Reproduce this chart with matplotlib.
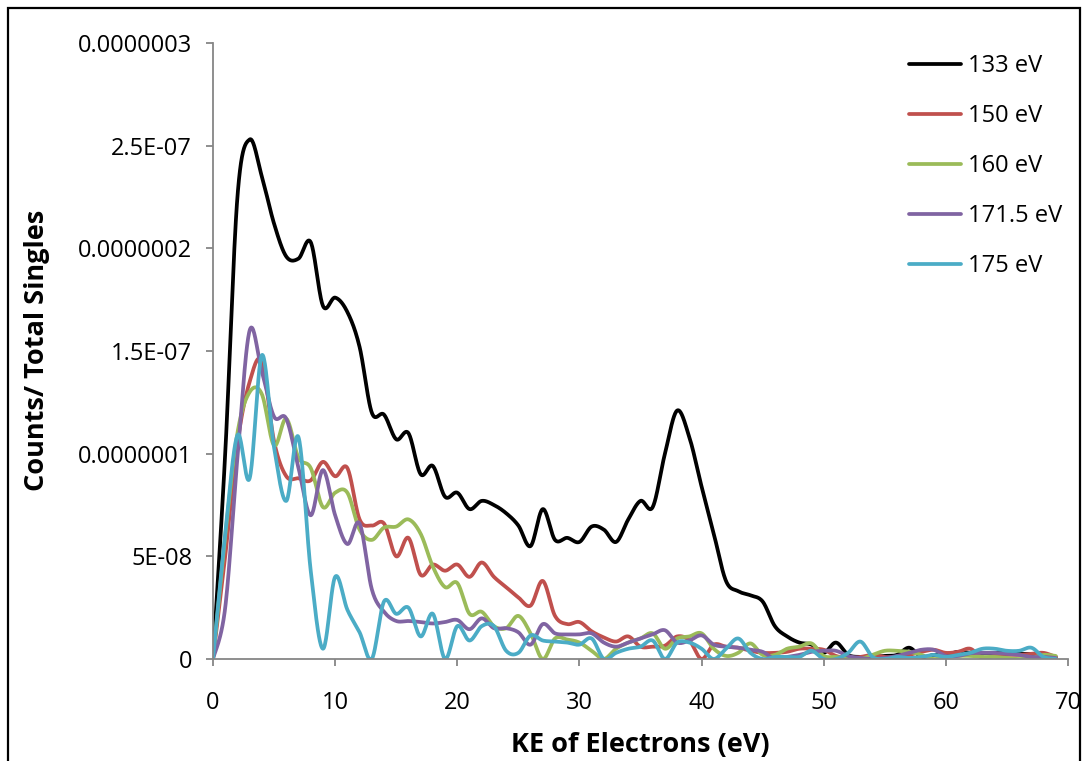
import numpy as np
import matplotlib
matplotlib.use("Agg")
import matplotlib.pyplot as plt
from matplotlib.patches import Rectangle

# ---- data (values in units of 1e-8 counts / total singles) ----
ke = np.arange(0, 70)

s133 = [0, 10.0, 22.5, 25.3, 23.5, 21.2, 19.6, 19.5, 20.3, 17.2,
        17.6, 16.9, 15.2, 12.0, 11.9, 10.7, 11.0, 9.0, 9.4, 7.9,
        8.1, 7.3, 7.7, 7.5, 7.1, 6.5, 5.5, 7.3, 5.8, 5.9,
        5.7, 6.45, 6.3, 5.7, 6.8, 7.7, 7.4, 10.0, 12.1, 10.8,
        8.4, 6.1, 3.8, 3.3, 3.1, 2.8, 1.6, 1.1, 0.8, 0.7,
        0.3, 0.8, 0.2, 0.1, 0.1, 0.15, 0.2, 0.55, 0.1, 0.2,
        0.2, 0.35, 0.3, 0.3, 0.3, 0.3, 0.25, 0.25, 0.2, 0.1]

s150 = [0, 5.0, 10.5, 13.5, 14.5, 10.6, 8.9, 8.8, 8.7, 9.6,
        8.9, 9.3, 6.8, 6.5, 6.6, 5.0, 5.9, 4.1, 4.6, 4.3,
        4.6, 4.0, 4.7, 4.0, 3.5, 3.0, 2.6, 3.8, 2.1, 1.7,
        1.8, 1.35, 1.05, 0.85, 1.1, 0.6, 0.6, 0.65, 1.1, 0.9,
        0.0, 0.7, 0.6, 0.55, 0.4, 0.3, 0.3, 0.35, 0.5, 0.5,
        0.45, 0.15, 0.05, 0.1, 0.2, 0.1, 0.1, 0.2, 0.35, 0.45,
        0.3, 0.35, 0.5, 0.05, 0.15, 0.2, 0.2, 0.25, 0.3, 0.1]

s160 = [0, 6.0, 11.0, 13.0, 12.9, 10.4, 11.7, 9.8, 9.3, 7.4,
        8.1, 8.1, 6.3, 5.8, 6.4, 6.45, 6.8, 6.1, 4.5, 3.5,
        3.7, 2.2, 2.3, 1.6, 1.5, 2.1, 1.25, 0.0, 1.0, 0.95,
        0.8, 0.4, 0.0, 0.5, 0.8, 1.0, 1.25, 0.5, 1.0, 1.1,
        1.25, 0.5, 0.15, 0.3, 0.76, 0.2, 0.2, 0.5, 0.6, 0.76,
        0.15, 0.1, 0.05, 0.0, 0.2, 0.4, 0.4, 0.35, 0.2, 0.0,
        0.1, 0.15, 0.15, 0.1, 0.1, 0.05, 0.0, 0.05, 0.2, 0.15]

s171 = [0, 2.5, 9.8, 16.0, 14.0, 11.8, 11.7, 9.3, 7.0, 9.2,
        7.0, 5.6, 6.6, 3.4, 2.3, 1.85, 1.85, 1.8, 1.73, 1.8,
        1.9, 1.45, 1.98, 1.5, 1.5, 1.3, 0.7, 1.7, 1.25, 1.2,
        1.2, 1.25, 0.8, 0.6, 0.8, 1.0, 1.2, 1.4, 0.8, 0.9,
        1.15, 0.7, 0.6, 0.55, 0.45, 0.35, 0.0, 0.1, 0.2, 0.35,
        0.4, 0.4, 0.15, 0.05, 0.0, 0.05, 0.15, 0.3, 0.45, 0.45,
        0.15, 0.15, 0.28, 0.3, 0.3, 0.25, 0.2, 0.1, 0.1, 0.05]

s175 = [0, 6.1, 10.9, 8.8, 14.8, 10.3, 7.7, 10.8, 4.3, 0.5,
        4.0, 2.4, 1.3, 0.0, 2.8, 2.2, 2.5, 1.1, 2.2, 0.0,
        1.6, 0.9, 1.6, 1.6, 0.4, 0.3, 1.15, 0.9, 0.85, 0.8,
        0.7, 1.0, 0.0, 0.3, 0.5, 0.6, 0.9, 0.0, 0.8, 0.8,
        0.5, 0.0, 0.5, 1.0, 0.3, 0.0, 0.1, 0.1, 0.1, 0.4,
        0.0, 0.0, 0.3, 0.85, 0.1, 0.0, 0.1, 0.05, 0.1, 0.2,
        0.1, 0.2, 0.3, 0.5, 0.5, 0.4, 0.4, 0.55, 0.1, 0.0]

series_labels = ["133 eV", "150 eV", "160 eV", "171.5 eV", "175 eV"]
series_colors = ["#000000", "#C0504D", "#9BBB59", "#8064A2", "#4BACC6"]
yticks = [0, 5e-8, 1e-7, 1.5e-7, 2e-7, 2.5e-7, 3e-7]
ytick_labels = ["0", "5E-08", "0.0000001", "1.5E-07", "0.0000002", "2.5E-07", "0.0000003"]
xticks = [0, 10, 20, 30, 40, 50, 60, 70]


def smooth(x, y, n=24):
    """Excel-style smoothed line (uniform Catmull-Rom through the points)."""
    x = np.asarray(x, float)
    y = np.asarray(y, float)
    P = np.column_stack([x, y])
    P = np.vstack([P[0], P, P[-1]])
    t = np.linspace(0, 1, n, endpoint=False)[:, None]
    out = []
    for i in range(1, len(P) - 2):
        p0, p1, p2, p3 = P[i - 1], P[i], P[i + 1], P[i + 2]
        seg = 0.5 * (2 * p1 + (-p0 + p2) * t + (2 * p0 - 5 * p1 + 4 * p2 - p3) * t ** 2
                     + (-p0 + 3 * p1 - 3 * p2 + p3) * t ** 3)
        out.append(seg)
    out.append(P[-2][None, :])
    out = np.vstack(out)
    return out[:, 0], out[:, 1]


W, H = 1082, 761
fig = plt.figure(figsize=(W / 100, H / 100), dpi=100)
ax = fig.add_axes([213 / W, 102 / H, 855 / W, 616 / H])

for vals, lab, col in zip([s133, s150, s160, s171, s175], series_labels, series_colors):
    xs, ys = smooth(ke, np.array(vals) * 1e-8)
    ax.plot(xs, ys, color=col, lw=2.7, label=lab, solid_capstyle="round")

ax.set_xlim(0, 70)
ax.set_ylim(0, 3e-7)
ax.set_xticks(xticks)
ax.set_xticklabels([str(v) for v in xticks])
ax.set_yticks(yticks)
ax.set_yticklabels(ytick_labels)

for side in ["top", "right"]:
    ax.spines[side].set_visible(False)
for side in ["left", "bottom"]:
    ax.spines[side].set_color("#868686")
    ax.spines[side].set_linewidth(1.3)

tick_font = "Open Sans"
ax.tick_params(axis="both", direction="out", length=5, width=1.3, color="#868686",
               labelsize=17, labelcolor="black")
ax.tick_params(axis="y", pad=10)
ax.tick_params(axis="x", pad=18)
for lbl in ax.get_xticklabels() + ax.get_yticklabels():
    lbl.set_fontfamily(tick_font)

fig.text(640 / W, 1 - 745 / H, "KE of Electrons (eV)", ha="center", va="center",
         fontsize=19.5, fontweight="bold", family="Open Sans")
fig.text(37 / W, 1 - 350 / H, "Counts/ Total Singles", ha="center", va="center",
         rotation=90, fontsize=19.5, fontweight="bold", family="Open Sans")

leg = ax.legend(loc="upper left", bbox_to_anchor=(909 / W, 1 - 54 / H),
                bbox_transform=fig.transFigure, frameon=False,
                prop={"family": "Open Sans", "size": 17},
                handlelength=2.2, handletextpad=0.3, labelspacing=1.1,
                borderaxespad=0, borderpad=0)
for h in leg.get_lines():
    h.set_linewidth(2.7)

fig.patches.append(Rectangle((8 / W, -0.05), (1080 - 8) / W, 1.05 - 8 / H,
                             transform=fig.transFigure, fill=False,
                             edgecolor="black", linewidth=1.6))

fig.savefig("out.png", dpi=100)
